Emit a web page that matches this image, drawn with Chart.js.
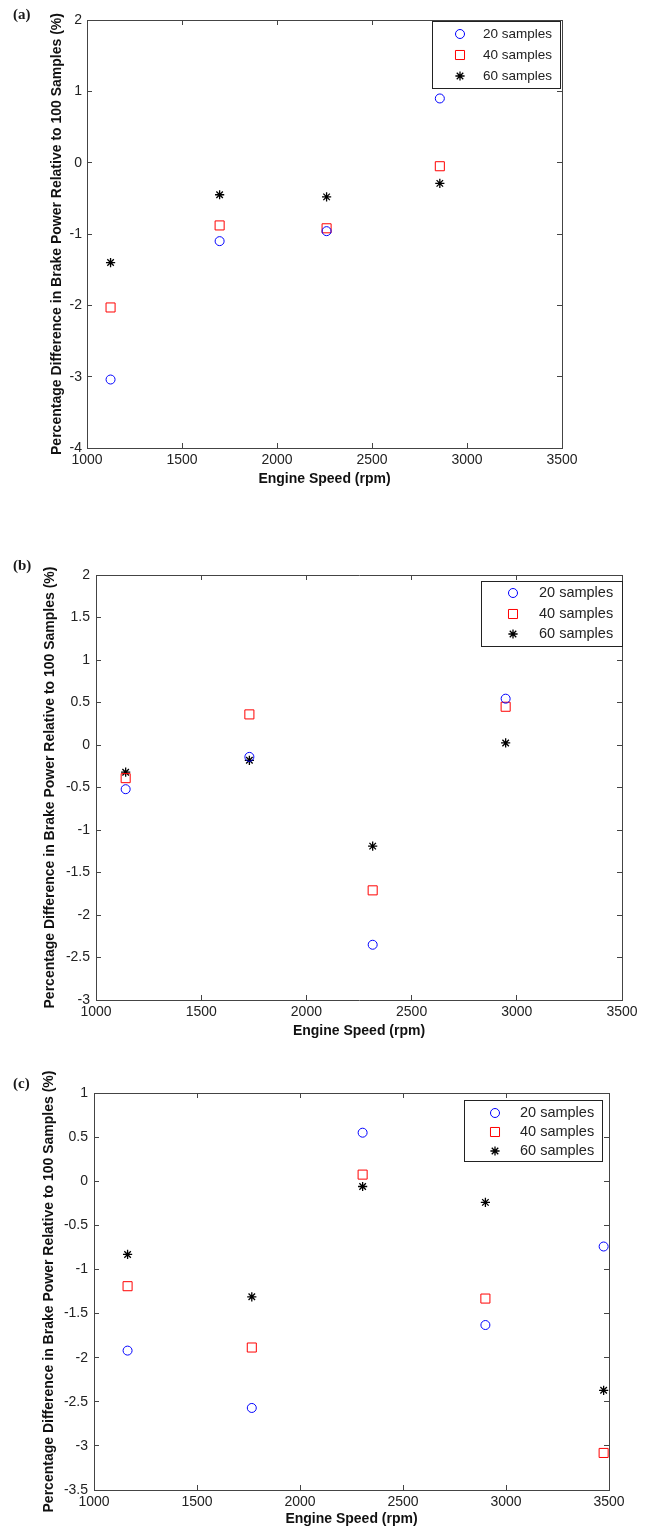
<!DOCTYPE html>
<html>
<head>
<meta charset="utf-8">
<title>Brake power difference vs engine speed</title>
<script src="https://cdn.jsdelivr.net/npm/chart.js@4.4.1/dist/chart.umd.min.js"></script>
<style>
  html, body { margin: 0; padding: 0; background: #fff; }
  #page { position: relative; width: 647px; height: 1528px; }
  canvas { position: absolute; left: 0; }
  .tag { position: absolute; left: 13px; font: bold 15px "Liberation Serif", serif; color: #1a1a1a; }
</style>
</head>
<body>
<div id="page">
  <canvas id="chartA" width="647" height="500" style="top:0"></canvas>
  <canvas id="chartB" width="647" height="520" style="top:520px"></canvas>
  <canvas id="chartC" width="647" height="488" style="top:1040px"></canvas>
  <div class="tag" style="top:6px">(a)</div>
  <div class="tag" style="top:557px">(b)</div>
  <div class="tag" style="top:1075px">(c)</div>
</div>
<script>
// series names and axis texts
const seriesLabels = ['20 samples', '40 samples', '60 samples'];
const xTitle = 'Engine Speed (rpm)';
const yTitle = 'Percentage Difference in Brake Power Relative to 100 Samples (%)';

// tick values
const xTicks = [1000, 1500, 2000, 2500, 3000, 3500];
const yTicksA = [-4, -3, -2, -1, 0, 1, 2];
const yTicksB = [-3, -2.5, -2, -1.5, -1, -0.5, 0, 0.5, 1, 1.5, 2];
const yTicksC = [-3.5, -3, -2.5, -2, -1.5, -1, -0.5, 0, 0.5, 1];

// (a)
const speedA = [1124, 1698, 2261, 2857];
const s20A = [-3.04, -1.10, -0.96, 0.90];
const s40A = [-2.03, -0.88, -0.92, -0.05];
const s60A = [-1.40, -0.45, -0.48, -0.29];

// (b)
const speedB = [1141, 1729, 2315, 2947];
const s20B = [-0.52, -0.14, -2.35, 0.545];
const s40B = [-0.39, 0.36, -1.71, 0.45];
const s60B = [-0.32, -0.18, -1.19, 0.024];

// (c)
const speedC = [1163, 1766, 2304, 2900, 3474];
const s20C = [-1.92, -2.57, 0.55, -1.63, -0.74];
const s40C = [-1.19, -1.885, 0.075, -1.33, -3.08];
const s60C = [-0.83, -1.31, -0.06, -0.24, -2.37];

// marker look, one entry per series
const markerStyles = ['circle', 'rect', 'star'];
const markerColors = ['#0000ff', '#ff0000', '#000000'];
const markerRadius = [4.5, 6.4, 4.6];
const markerWidth = [1, 1, 1.3];

const FONT = '"Liberation Sans", Arial, sans-serif';
const AXIS = '#444';

// draws the boxed legend in the top right corner of the plot
const boxLegend = {
    id: 'boxLegend',
    afterDraw(chart, args, opts) {
        const ctx = chart.ctx;
        const area = chart.chartArea;
        const left = area.right - opts.dx - opts.w;
        const top = area.top + opts.dy;
        ctx.save();
        ctx.fillStyle = '#fff';
        ctx.fillRect(left, top, opts.w, opts.h);
        ctx.strokeStyle = '#222';
        ctx.lineWidth = 1;
        ctx.strokeRect(Math.round(left) + 0.5, Math.round(top) + 0.5, opts.w, opts.h);
        chart.data.datasets.forEach((ds, i) => {
            const y = top + opts.rows[i];
            ctx.strokeStyle = ds.borderColor;
            ctx.fillStyle = 'rgba(0,0,0,0)';
            ctx.lineWidth = ds.pointBorderWidth;
            Chart.helpers.drawPoint(ctx, {
                pointStyle: ds.pointStyle,
                radius: ds.pointRadius,
                borderWidth: ds.pointBorderWidth,
                rotation: 0
            }, left + opts.markerX, y);
            ctx.fillStyle = '#222';
            ctx.font = opts.fontSize + 'px ' + FONT;
            ctx.textBaseline = 'middle';
            ctx.textAlign = 'left';
            ctx.fillText(ds.label, left + opts.textX, y);
        });
        ctx.restore();
    }
};

function tickSetter(values) {
    return function(scale) {
        scale.ticks = values.map(v => ({ value: v }));
    };
}

function makePanel(id, speeds, series, yTicks, look) {
    const datasets = series.map((vals, i) => ({
        label: seriesLabels[i],
        data: speeds.map((x, j) => ({ x: x, y: vals[j] })),
        showLine: false,
        pointStyle: markerStyles[i],
        pointRadius: markerRadius[i],
        pointHoverRadius: markerRadius[i],
        pointBorderWidth: markerWidth[i],
        borderColor: markerColors[i],
        backgroundColor: 'rgba(0,0,0,0)',
        clip: false
    }));

    const tickFont = { family: FONT, size: 14 };
    const titleFont = { family: FONT, size: 14, weight: 'bold' };
    const grid = { drawOnChartArea: false, drawTicks: true, tickLength: -5, color: AXIS, tickColor: AXIS };
    const border = { display: true, color: AXIS, width: 1 };
    const xMin = xTicks[0], xMax = xTicks[xTicks.length - 1];
    const yMin = yTicks[0], yMax = yTicks[yTicks.length - 1];

    new Chart(document.getElementById(id), {
        type: 'scatter',
        data: { datasets: datasets },
        plugins: [boxLegend],
        options: {
            responsive: false,
            animation: false,
            devicePixelRatio: 1,
            layout: { padding: look.padding },
            plugins: {
                legend: { display: false },
                tooltip: { enabled: false },
                boxLegend: look.legend
            },
            scales: {
                x: {
                    type: 'linear', position: 'bottom', min: xMin, max: xMax,
                    afterBuildTicks: tickSetter(xTicks),
                    afterFit: s => { s.height = look.xHeight; },
                    grid: grid, border: border,
                    ticks: { padding: 9, autoSkip: false, maxRotation: 0, color: '#222', font: tickFont, callback: v => String(v) },
                    title: { display: true, text: xTitle, color: '#111', font: titleFont, padding: { top: 0, bottom: 0 } }
                },
                y: {
                    type: 'linear', position: 'left', min: yMin, max: yMax,
                    afterBuildTicks: tickSetter(yTicks),
                    afterFit: s => { s.width = look.yWidth; },
                    grid: grid, border: border,
                    ticks: { padding: look.yTickPad, autoSkip: false, color: '#222', font: tickFont, callback: v => String(v) },
                    title: { display: true, text: yTitle, color: '#111', font: titleFont, padding: { top: look.yTitlePad, bottom: 0 } }
                },
                x2: {
                    type: 'linear', position: 'top', min: xMin, max: xMax,
                    afterBuildTicks: tickSetter(xTicks),
                    afterFit: s => { s.height = 0; },
                    grid: grid, border: border,
                    ticks: { display: false }
                },
                y2: {
                    type: 'linear', position: 'right', min: yMin, max: yMax,
                    afterBuildTicks: tickSetter(yTicks),
                    afterFit: s => { s.width = 0; },
                    grid: grid, border: border,
                    ticks: { display: false }
                }
            }
        }
    });
}

makePanel('chartA', speedA, [s20A, s40A, s60A], yTicksA, {
    padding: { left: 30, right: 85, top: 20, bottom: 12 },
    xHeight: 40, yWidth: 57, yTickPad: 10, yTitlePad: 18.6,
    legend: { w: 128, h: 67, dx: 2, dy: 1, markerX: 28, textX: 51, rows: [13, 34, 55], fontSize: 13.5 }
});

makePanel('chartB', speedB, [s20B, s40B, s60B], yTicksB, {
    padding: { left: 30, right: 25, top: 55, bottom: 0 },
    xHeight: 40, yWidth: 66, yTickPad: 11, yTitlePad: 11.6,
    legend: { w: 141, h: 65, dx: 0, dy: 6, markerX: 32, textX: 58, rows: [12, 33, 53], fontSize: 14.5 }
});

makePanel('chartC', speedC, [s20C, s40C, s60C], yTicksC, {
    padding: { left: 30, right: 38, top: 53, bottom: 0 },
    xHeight: 38, yWidth: 64, yTickPad: 11, yTitlePad: 10.6,
    legend: { w: 138, h: 61, dx: 7, dy: 7, markerX: 31, textX: 56, rows: [13, 32, 51], fontSize: 14.5 }
});
</script>
</body>
</html>
